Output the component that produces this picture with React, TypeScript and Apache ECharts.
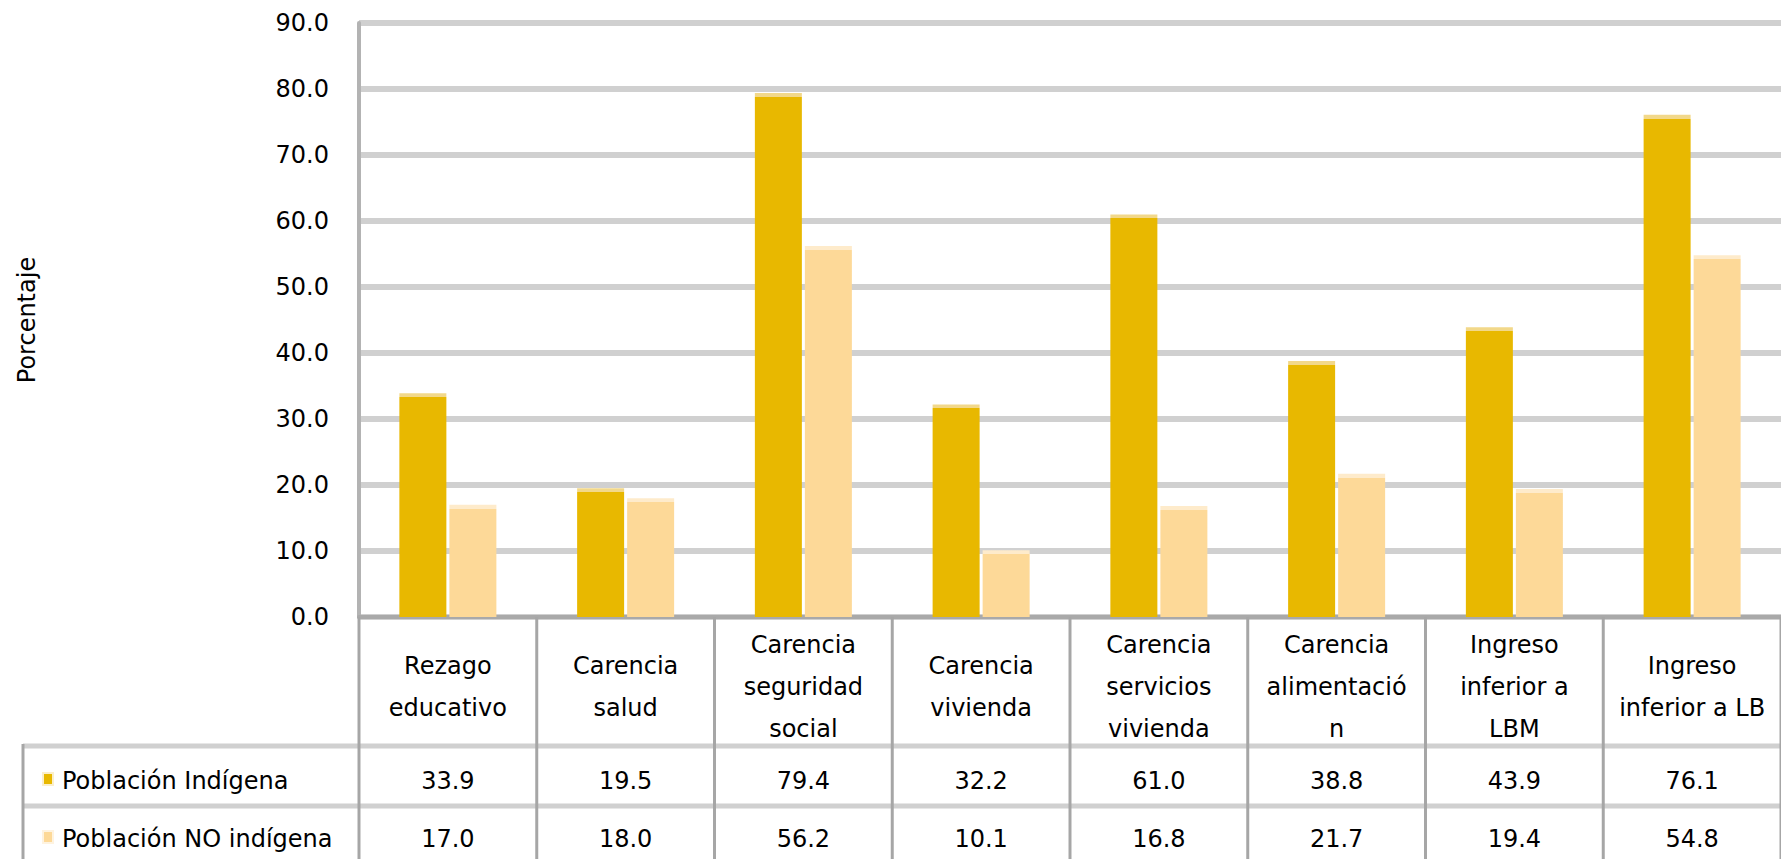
import React, { useEffect, useRef } from "react";
import * as echarts from "echarts";

const categories = [
  "Rezago educativo",
  "Carencia salud",
  "Carencia seguridad social",
  "Carencia vivienda",
  "Carencia servicios vivienda",
  "Carencia alimentación",
  "Ingreso inferior a LBM",
  "Ingreso inferior a LB",
];
const categoryLines = [
  ["Rezago", "educativo"],
  ["Carencia", "salud"],
  ["Carencia", "seguridad", "social"],
  ["Carencia", "vivienda"],
  ["Carencia", "servicios", "vivienda"],
  ["Carencia", "alimentació", "n"],
  ["Ingreso", "inferior a", "LBM"],
  ["Ingreso", "inferior a LB"],
];
const seriesNames = ["Población Indígena", "Población NO indígena"];
const indigena = [33.9, 19.5, 79.4, 32.2, 61.0, 38.8, 43.9, 76.1];
const noIndigena = [17.0, 18.0, 56.2, 10.1, 16.8, 21.7, 19.4, 54.8];
const yMin = 0;
const yMax = 90;
const yInterval = 10;
const yAxisTitle = "Porcentaje";

const mainColors = ["#E8B800", "#FDD998"];
const capColors = ["#F2D88A", "#FEEBCB"];
const FONT = "DejaVu Sans";
const FS = 24;

const GRID = { left: 359, top: 23, width: 1433, height: 594 };
const PX_PER_UNIT = GRID.height / (yMax - yMin);

function barData(values: number[], s: number) {
  return values.map((v) => {
    const h = v * PX_PER_UNIT;
    const f = Math.min(0.5, 4 / h);
    return {
      value: v,
      itemStyle: {
        color: {
          type: "linear",
          x: 0,
          y: 0,
          x2: 0,
          y2: 1,
          colorStops: [
            { offset: 0, color: capColors[s] },
            { offset: f, color: capColors[s] },
            { offset: f, color: mainColors[s] },
            { offset: 1, color: mainColors[s] },
          ],
        },
      },
    };
  });
}

export default function App() {
  const ref = useRef<HTMLDivElement>(null);
  useEffect(() => {
    if (!ref.current) return;
    const chart = echarts.init(ref.current, undefined, { renderer: "svg" });
    const option: any = {
      animation: false,
      backgroundColor: "#ffffff",
      textStyle: { fontFamily: FONT },
      grid: { ...GRID },
      xAxis: {
        type: "category",
        data: categories,
        axisTick: { show: false },
        axisLine: { show: true, lineStyle: { color: "#A9A9A9", width: 4 } },
        axisLabel: {
          interval: 0,
          margin: 70,
          verticalAlign: "middle",
          lineHeight: 42,
          fontSize: FS,
          fontFamily: FONT,
          color: "#000",
          formatter: (_v: string, i: number) => categoryLines[i].join("\n"),
        },
        splitLine: { show: false },
      },
      yAxis: {
        type: "value",
        min: yMin,
        max: yMax,
        interval: yInterval,
        axisLine: { show: true, lineStyle: { color: "#B3B3B3", width: 4 } },
        axisTick: { show: false },
        axisLabel: {
          margin: 30,
          fontSize: FS,
          fontFamily: FONT,
          color: "#000",
          formatter: (v: number) => v.toFixed(1),
        },
        splitLine: { show: true, lineStyle: { color: "#D0D0D0", width: 6 } },
      },
      series: [
        {
          name: seriesNames[0],
          type: "bar",
          barWidth: 47,
          barGap: "6.4%",
          data: barData(indigena, 0),
        },
        {
          name: seriesNames[1],
          type: "bar",
          barWidth: 47,
          barGap: "6.4%",
          data: barData(noIndigena, 1),
        },
      ],
    };
    chart.setOption(option);

    const c0 = chart.convertToPixel({ xAxisIndex: 0 }, 0) as number;
    const c1 = chart.convertToPixel({ xAxisIndex: 0 }, 1) as number;
    const band = c1 - c0;
    const y0 = chart.convertToPixel({ yAxisIndex: 0 }, 0) as number;
    const rowTop1 = 746;
    const rowTop2 = 806;
    const bottom = 859;
    const tableLeft = 23;
    const W = 1781;
    const rowText1 = 781;
    const rowText2 = 839;

    const g: any[] = [];
    [rowTop1, rowTop2].forEach((y) => {
      g.push({
        type: "line",
        shape: { x1: tableLeft, y1: y, x2: W + 20, y2: y },
        style: { stroke: "#D0D0D0", lineWidth: 5 },
        z: 10,
      });
    });
    g.push({
      type: "line",
      shape: { x1: tableLeft, y1: rowTop1 - 2, x2: tableLeft, y2: bottom + 5 },
      style: { stroke: "#A6A6A6", lineWidth: 3 },
      z: 11,
    });
    for (let k = 0; k <= categories.length; k++) {
      const x = c0 - band / 2 + k * band;
      g.push({
        type: "line",
        shape: { x1: x, y1: y0, x2: x, y2: bottom + 5 },
        style: { stroke: "#A6A6A6", lineWidth: 3 },
        z: 11,
      });
    }
    const rows = [indigena, noIndigena];
    const rowYs = [rowText1, rowText2];
    rows.forEach((vals, r) => {
      vals.forEach((v, i) => {
        const cx = chart.convertToPixel({ xAxisIndex: 0 }, i) as number;
        g.push({
          type: "text",
          x: cx,
          y: rowYs[r],
          style: {
            text: v.toFixed(1),
            fontSize: FS,
            fontFamily: FONT,
            fill: "#000",
            align: "center",
            verticalAlign: "middle",
          },
          z: 12,
        });
      });
      g.push({
        type: "rect",
        shape: { x: 43, y: rowYs[r] - 8, width: 10, height: 12 },
        style: { fill: mainColors[r], stroke: r === 0 ? "#FBEFCB" : "#FEF3E0", lineWidth: 2 },
        z: 12,
      });
      g.push({
        type: "text",
        x: 62,
        y: rowYs[r],
        style: {
          text: seriesNames[r],
          fontSize: FS,
          fontFamily: FONT,
          fill: "#000",
          align: "left",
          verticalAlign: "middle",
        },
        z: 12,
      });
    });
    g.push({
      type: "text",
      x: 27,
      y: 320,
      rotation: Math.PI / 2,
      style: {
        text: yAxisTitle,
        fontSize: FS,
        fontFamily: FONT,
        fill: "#000",
        align: "center",
        verticalAlign: "middle",
      },
      z: 12,
    });
    chart.setOption({ graphic: g });

    return () => chart.dispose();
  }, []);
  return (
    <div
      ref={ref}
      style={{ position: "fixed", left: 0, top: 0, width: 1781, height: 859, background: "#fff" }}
    />
  );
}
